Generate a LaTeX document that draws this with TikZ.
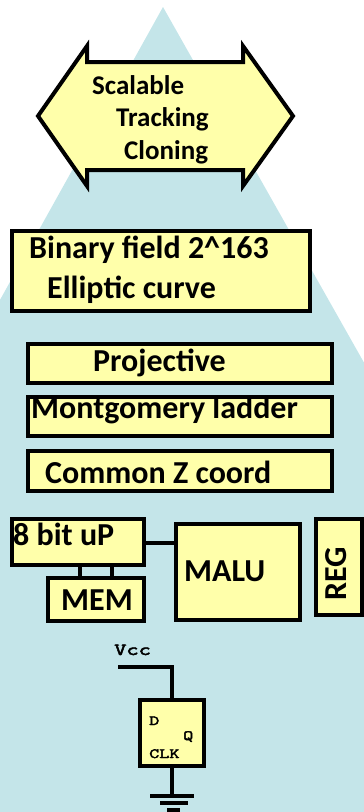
\documentclass[tikz,border=0pt]{standalone}
\usepackage{fontspec}
\setmainfont{Carlito}
\newfontfamily\chipfont[FakeStretch=1.4,FakeBold=3]{Latin Modern Mono}
\definecolor{pyramidblue}{RGB}{196,229,233}
\definecolor{boxyellow}{RGB}{255,255,170}
\tikzset{
  layerbox/.style={draw=black,fill=boxyellow,line width=4pt,outer sep=0pt,inner sep=0pt,anchor=north west},
  wire/.style={draw=black,line width=3.5pt},
  biglabel/.style={font=\bfseries\fontsize{32}{32}\selectfont,anchor=base west,inner sep=0pt},
  midlabel/.style={font=\bfseries\fontsize{27}{27}\selectfont,anchor=base west,inner sep=0pt},
  chiplabel/.style={font=\chipfont\fontsize{14}{14}\selectfont,anchor=base west,inner sep=0pt}
}
\begin{document}
\begin{tikzpicture}[x=1pt,y=-1pt]
\useasboundingbox (0,0) rectangle (364,812);
\clip (0,0) rectangle (364,812);

% Pyramid
\fill[pyramidblue] (163,7) -- (618,812) -- (-285,812) -- cycle;

% Double arrow
\draw[fill=boxyellow,line width=4pt] (38,116) -- (87,46) -- (87,62) -- (243,62) -- (243,46) -- (293,116)
  -- (243,186) -- (243,170) -- (87,170) -- (87,186) -- cycle;
\node[midlabel] (scalable) at (92,94) {Scalable};
\node[midlabel] (tracking) at (116,126) {Tracking};
\node[midlabel] (cloning) at (124,159) {Cloning};

% Layers
\node[layerbox,minimum width=298pt,minimum height=80pt] (field) at (12,231) {};
\node[biglabel] (fieldtext) at (29,258) {Binary field 2\^{}163};
\node[biglabel] (curvetext) at (47,298) {Elliptic curve};

\node[layerbox,minimum width=304pt,minimum height=39pt] (proj) at (27.5,344) {};
\node[biglabel] (projtext) at (93,371) {Projective};

\node[layerbox,minimum width=304pt,minimum height=39pt] (ladder) at (27.5,397) {};
\node[biglabel] (laddertext) at (31,418) {Montgomery ladder};

\node[layerbox,minimum width=304pt,minimum height=40pt] (zcoord) at (27.5,451) {};
\node[biglabel] (ztext) at (45,483) {Common Z coord};

% Hardware
\draw[wire] (146,543) -- (176,543);
\coordinate (memleft) at (80,578);
\coordinate (memright) at (112,578);
\node[layerbox,minimum width=132pt,minimum height=46pt] (up) at (12,519) {};
\node[biglabel] (uptext) at (13,545) {8 bit uP};
\node[layerbox,minimum width=96pt,minimum height=43pt] (mem) at (48,578) {};
\node[biglabel] (memtext) at (61,610) {MEM};
\draw[wire] (memleft) -- (memleft |- up.south);
\draw[wire] (memright) -- (memright |- up.south);
\node[layerbox,minimum width=124pt,minimum height=96pt] (malu) at (176,524) {};
\node[biglabel] (malutext) at (184,581) {MALU};
\node[layerbox,minimum width=46pt,minimum height=96pt] (reg) at (316,519) {};
\node[biglabel,rotate=90] (regtext) at (346,601) {REG};

% Flip flop
\node[layerbox,minimum width=64pt,minimum height=66pt] (ff) at (140,700) {};
\node[chiplabel,font=\chipfont\fontsize{17}{17}\selectfont] (vcc) at (114,655) {Vcc};
\node[chiplabel] (dpin) at (149,725) {D};
\node[chiplabel] (qpin) at (183,740) {Q};
\node[chiplabel] (clkpin) at (149,758) {CLK};
\coordinate (vccend) at (118,667);
\coordinate (gnd) at (172,796);
\draw[wire] (vccend) -- (vccend -| ff.north) -- (ff.north);
\draw[wire] (ff.south) -- (gnd);
\draw[line width=4pt] (150,796) -- (194,796);
\draw[line width=4pt] (160,803) -- (188,803);
\draw[line width=4pt] (167,810) -- (180,810);
\end{tikzpicture}
\end{document}
